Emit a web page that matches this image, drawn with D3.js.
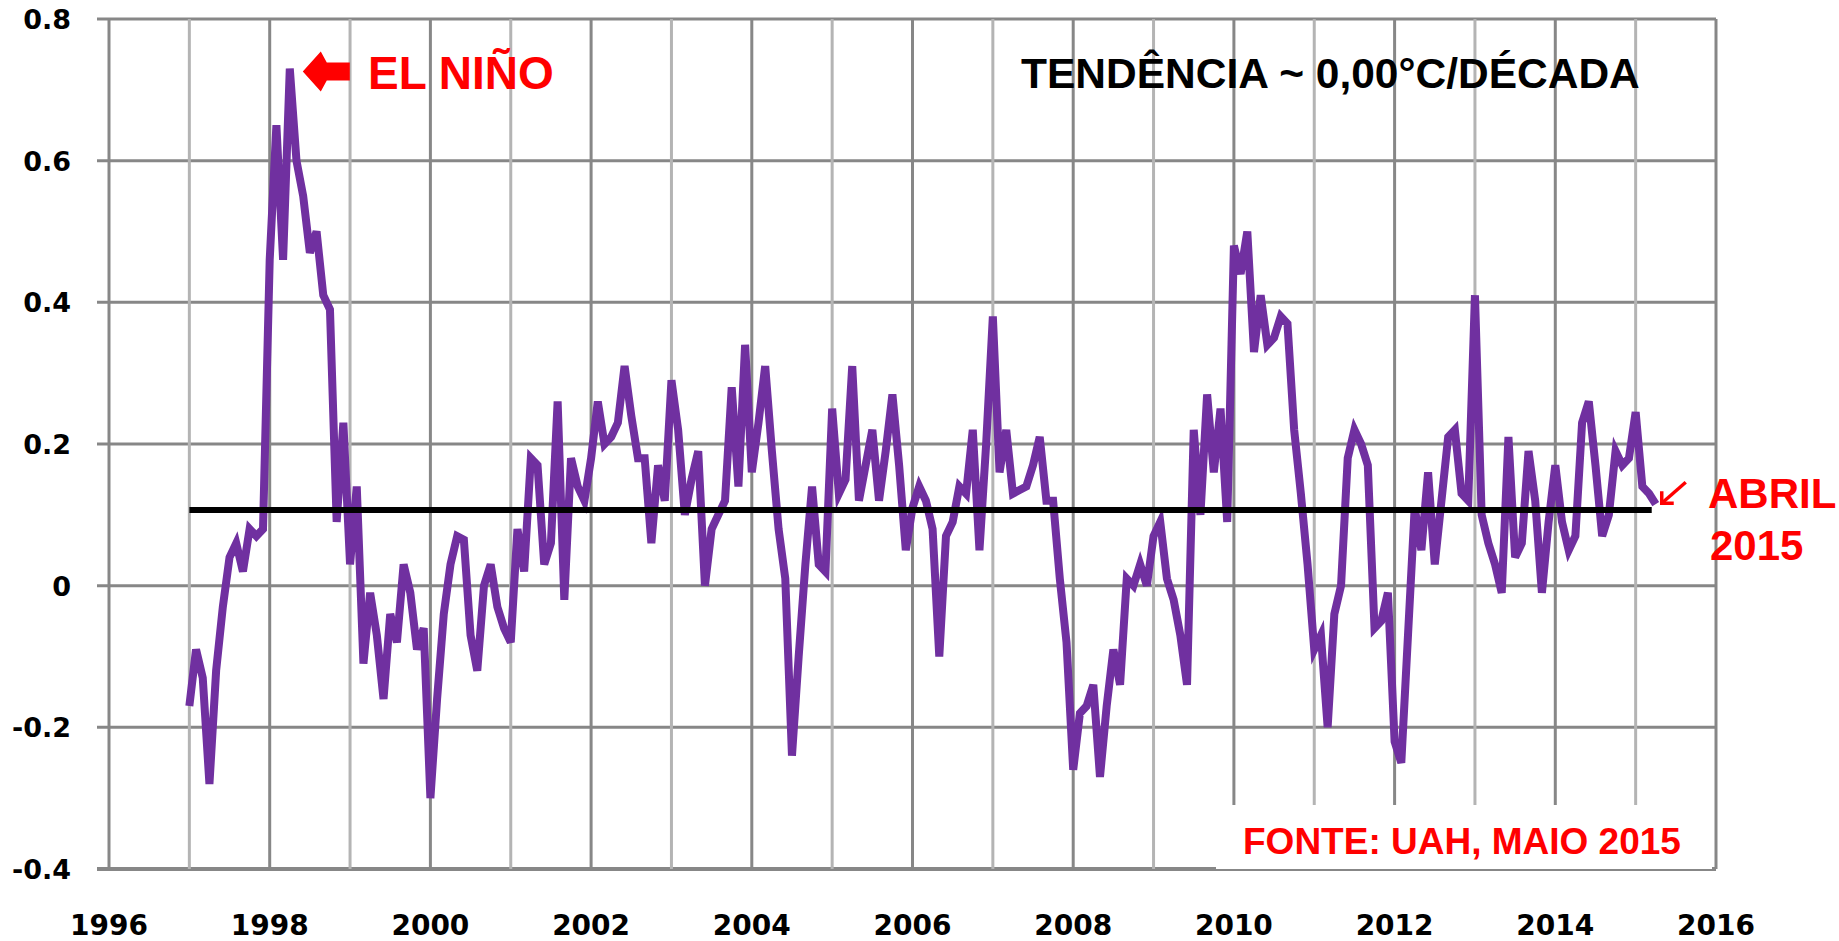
<!DOCTYPE html>
<html>
<head>
<meta charset="utf-8">
<script src="https://cdn.jsdelivr.net/npm/d3@7"></script>
<style>
  body { margin: 0; background: #fff; }
  text { font-weight: bold; }
</style>
</head>
<body>
<div id="chart"></div>
<script>
// monthly global lower-troposphere anomaly (UAH), Jan 1997 .. Apr 2015
const startYear = 1997
const anomaly = [
    -0.17, -0.09, -0.13, -0.28, -0.12, -0.03, 0.04, 0.06, 0.02, 0.08, 0.07, 0.08,   // 1997
    0.46, 0.65, 0.46, 0.73, 0.60, 0.55, 0.47, 0.50, 0.41, 0.39, 0.09, 0.23,         // 1998
    0.03, 0.14, -0.11, -0.01, -0.07, -0.16, -0.04, -0.08, 0.03, -0.01, -0.09, -0.06, // 1999
    -0.30, -0.16, -0.04, 0.03, 0.07, 0.065, -0.07, -0.12, 0.00, 0.03, -0.03, -0.06,  // 2000
    -0.08, 0.08, 0.02, 0.18, 0.17, 0.03, 0.06, 0.26, -0.02, 0.18, 0.14, 0.12,        // 2001
    0.18, 0.26, 0.20, 0.21, 0.23, 0.31, 0.24, 0.18, 0.18, 0.06, 0.17, 0.12,          // 2002
    0.29, 0.22, 0.10, 0.15, 0.19, 0.00, 0.08, 0.10, 0.12, 0.28, 0.14, 0.34,          // 2003
    0.16, 0.23, 0.31, 0.19, 0.08, 0.01, -0.24, -0.10, 0.03, 0.14, 0.03, 0.02,        // 2004
    0.25, 0.13, 0.15, 0.31, 0.12, 0.17, 0.22, 0.12, 0.19, 0.27, 0.17, 0.05,          // 2005
    0.11, 0.14, 0.12, 0.08, -0.10, 0.07, 0.09, 0.14, 0.13, 0.22, 0.05, 0.20,         // 2006
    0.38, 0.16, 0.22, 0.13, 0.135, 0.14, 0.17, 0.21, 0.12, 0.12, 0.01, -0.08,        // 2007
    -0.26, -0.18, -0.17, -0.14, -0.27, -0.17, -0.09, -0.14, 0.01, 0.00, 0.03, 0.00,  // 2008
    0.07, 0.09, 0.01, -0.02, -0.07, -0.14, 0.22, 0.10, 0.27, 0.16, 0.25, 0.09,       // 2009
    0.48, 0.44, 0.50, 0.33, 0.41, 0.34, 0.35, 0.38, 0.37, 0.22, 0.13, 0.03,          // 2010
    -0.09, -0.07, -0.20, -0.04, 0.00, 0.18, 0.22, 0.20, 0.17, -0.06, -0.05, -0.01,   // 2011
    -0.22, -0.25, -0.07, 0.11, 0.05, 0.16, 0.03, 0.12, 0.21, 0.22, 0.13, 0.12,       // 2012
    0.41, 0.10, 0.06, 0.03, -0.01, 0.21, 0.04, 0.06, 0.19, 0.12, -0.01, 0.09,        // 2013
    0.17, 0.09, 0.05, 0.07, 0.23, 0.26, 0.17, 0.07, 0.10, 0.19, 0.17, 0.18,          // 2014
    0.245, 0.14, 0.13, 0.115                                                          // 2015
]

// flat trend line
const trendYears = [1997, 2015.2]
const trendValues = [0.107, 0.107]

const xTicks = d3.range(1996, 2017, 2)
const yTicks = [-0.4, -0.2, 0, 0.2, 0.4, 0.6, 0.8]
const yTickLabels = ['-0.4', '-0.2', '0', '0.2', '0.4', '0.6', '0.8']
const gridYears = d3.range(1996, 2017)

const width = 1839, height = 941
const svg = d3.select('#chart')
    .append('svg')
    .attr('width', width)
    .attr('height', height)

const x = d3.scaleLinear().domain([1996, 2016]).range([109, 1716])
const y = d3.scaleLinear().domain([-0.4, 0.8]).range([869, 19])

// horizontal gridlines (they also make the little ticks on the left)
svg.append('g')
    .selectAll('line')
    .data(yTicks)
    .join('line')
    .attr('x1', x(1996) - 12)
    .attr('x2', x(2016))
    .attr('y1', d => y(d))
    .attr('y2', d => y(d))
    .attr('stroke', '#878787')
    .attr('stroke-width', d => d === -0.4 ? 4 : 3)

// vertical gridlines, even years darker
svg.append('g')
    .selectAll('line')
    .data(gridYears)
    .join('line')
    .attr('x1', d => x(d))
    .attr('x2', d => x(d))
    .attr('y1', y(0.8))
    .attr('y2', y(-0.4))
    .attr('stroke', d => d % 2 === 0 ? '#878787' : '#b4b4b4')
    .attr('stroke-width', 3)

// y labels
svg.append('g')
    .selectAll('text')
    .data(yTicks)
    .join('text')
    .attr('x', 71)
    .attr('y', d => y(d) + 10)
    .attr('text-anchor', 'end')
    .style('font-family', '"DejaVu Sans", Verdana, sans-serif')
    .style('font-size', '27px')
    .text((d, i) => yTickLabels[i])

// x labels
svg.append('g')
    .selectAll('text')
    .data(xTicks)
    .join('text')
    .attr('x', d => x(d))
    .attr('y', 935)
    .attr('text-anchor', 'middle')
    .style('font-family', '"DejaVu Sans", Verdana, sans-serif')
    .style('font-size', '28px')
    .text(d => d)

// white box behind the source note
svg.append('rect')
    .attr('x', 1216)
    .attr('y', 805)
    .attr('width', x(2016) - 1216 - 4)
    .attr('height', y(-0.4) - 805)
    .attr('fill', '#fff')

svg.append('text')
    .attr('x', 1243)
    .attr('y', 854)
    .attr('fill', '#ff0000')
    .style('font-family', '"Liberation Sans", Arial, sans-serif')
    .style('font-size', '37px')
    .text('FONTE: UAH, MAIO 2015')

// anomaly line
const line = d3.line()
    .x((d, i) => x(startYear + i / 12))
    .y(d => y(d))

svg.append('path')
    .datum(anomaly)
    .attr('d', line)
    .attr('fill', 'none')
    .attr('stroke', '#7030a0')
    .attr('stroke-width', 8)

// trend
svg.append('path')
    .datum(trendYears.map((t, i) => [t, trendValues[i]]))
    .attr('d', d3.line().x(d => x(d[0])).y(d => y(d[1])))
    .attr('stroke', '#000')
    .attr('stroke-width', 6)

// El Nino arrow, pointing at the peak
const peakIdx = d3.maxIndex(anomaly)
const tipX = x(startYear + peakIdx / 12) + 13
const tipY = y(anomaly[peakIdx]) + 3
const arrow = [[0, 0], [18, -20], [24, -9], [47, -9], [47, 9], [24, 9], [18, 20]]
svg.append('polygon')
    .attr('points', arrow.map(p => [tipX + p[0], tipY + p[1]].join(',')).join(' '))
    .attr('fill', '#ff0000')

svg.append('text')
    .attr('x', 368)
    .attr('y', 89)
    .attr('fill', '#ff0000')
    .style('font-family', '"Liberation Sans", Arial, sans-serif')
    .style('font-size', '46px')
    .text('EL NIÑO')

svg.append('text')
    .attr('x', 1021)
    .attr('y', 88)
    .attr('fill', '#000')
    .style('font-family', '"Liberation Sans", Arial, sans-serif')
    .style('font-size', '42.5px')
    .text('TENDÊNCIA ~ 0,00°C/DÉCADA')

// small arrow to the last month
const lastX = x(startYear + (anomaly.length - 1) / 12) + 6
const lastY = y(anomaly[anomaly.length - 1]) - 1
const small = svg.append('g')
    .attr('stroke', '#ff0000')
    .attr('stroke-width', 3.5)
    .attr('fill', 'none')
small.append('line')
    .attr('x1', lastX).attr('y1', lastY)
    .attr('x2', lastX + 24).attr('y2', lastY - 21)
small.append('polyline')
    .attr('points', [[lastX, lastY - 12], [lastX, lastY], [lastX + 12, lastY]].map(p => p.join(',')).join(' '))

svg.append('text')
    .attr('x', 1708)
    .attr('y', 508)
    .attr('fill', '#ff0000')
    .style('font-family', '"Liberation Sans", Arial, sans-serif')
    .style('font-size', '42px')
    .text('ABRIL')
svg.append('text')
    .attr('x', 1710)
    .attr('y', 560)
    .attr('fill', '#ff0000')
    .style('font-family', '"Liberation Sans", Arial, sans-serif')
    .style('font-size', '42px')
    .text('2015')
</script>
</body>
</html>
